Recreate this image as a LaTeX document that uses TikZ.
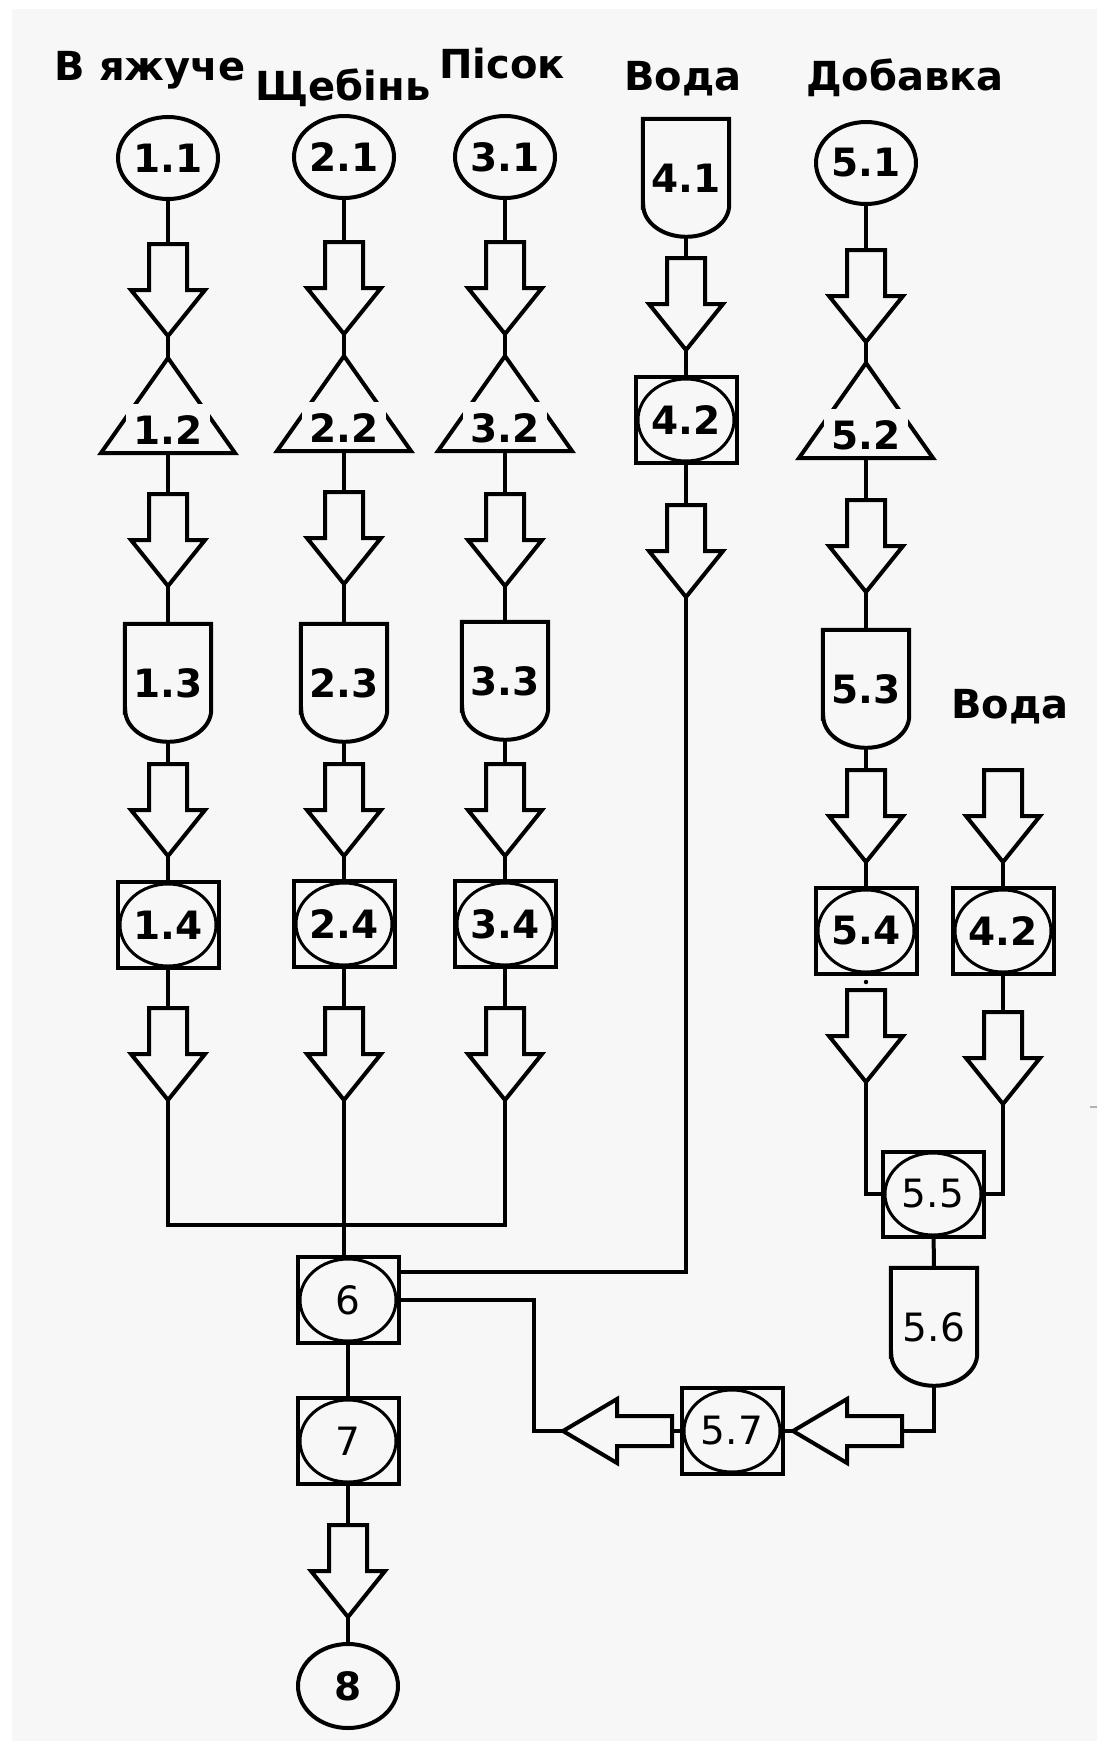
\documentclass[tikz,border=0pt]{standalone}
\usepackage{fontspec}
\setmainfont{DejaVu Sans}
\usetikzlibrary{shapes.geometric,calc}
\definecolor{bg}{HTML}{F7F7F7}
\newcommand{\blkdown}[3]{%
  \draw[ln, line join=miter, fill=bg] ({#2-19},{#3}) -- ({#2+19},{#3}) -- ({#2+19},{#3+46}) -- ({#2+37},{#3+46}) -- ({#2},{#3+92}) -- ({#2-37},{#3+46}) -- ({#2-19},{#3+46}) -- cycle;
  \coordinate (#1) at ({#2},{#3});
  \coordinate (#1t) at ({#2},{#3+92});}
\newcommand{\blkleft}[3]{%
  \draw[ln, line join=miter, fill=bg] ({#2},{#3-15}) -- ({#2},{#3+15}) -- ({#2-55},{#3+15}) -- ({#2-55},{#3+32}) -- ({#2-109},{#3}) -- ({#2-55},{#3-32}) -- ({#2-55},{#3-15}) -- cycle;
  \coordinate (#1) at ({#2},{#3});
  \coordinate (#1t) at ({#2-109},{#3});}
\newcommand{\trinode}[4]{%
  \draw[ln, line join=miter] ({#2},{#3}) -- ({#2+67},{#3+95}) -- ({#2-67},{#3+95}) -- cycle;
  \fill[bg] ({#2-42},{#3+46}) rectangle ({#2+42},{#3+88});
  \node[lbl] (#1) at ({#2},{#3+72}) {#4};
  \coordinate (#1a) at ({#2},{#3});
  \coordinate (#1b) at ({#2},{#3+95});}
\newcommand{\storenode}[5]{%
  \node[stbox, #5] (#1) at ({#2},{#3+59}) {#4};
  \draw[ln] (#1.south west) ++(0,-32) -- (#1.north west) -- (#1.north east) -- ++(0,86) arc[start angle=0, end angle=-180, x radius=43pt, y radius=32pt] -- cycle;}
\begin{document}
\begin{tikzpicture}[x=1pt,y=-1pt,
  ln/.style={line width=4pt},
  num/.style={font=\fontsize{39pt}{42pt}\selectfont\bfseries},
  numr/.style={font=\fontsize{39pt}{42pt}\selectfont},
  src/.style={ellipse, draw, line width=4pt, minimum width=100pt, minimum height=82pt, inner sep=0pt, num},
  ctl/.style={rectangle, draw, line width=4pt, minimum width=101pt, minimum height=86pt, inner sep=0pt, num,
    path picture={\draw[line width=3pt] (path picture bounding box.center) ellipse [x radius=48pt, y radius=41pt];}},
  stbox/.style={rectangle, minimum width=86pt, minimum height=118pt, inner sep=0pt},
  lbl/.style={inner sep=0pt, num},
  ttl/.style={anchor=base, inner sep=0pt, font=\fontsize{40pt}{44pt}\selectfont\bfseries}]
\useasboundingbox (0,0) rectangle (1097,1741);
\fill[white] (0,0) rectangle (1097,1741);
\fill[bg] (12,9) rectangle (1097,1741);

% titles
\node[ttl] (t1) at (150,80) {В яжуче};
\node[ttl] (t2) at (343,100) {Щебінь};
\node[ttl] (t3) at (502,78) {Пісок};
\node[ttl] (t4) at (683,90) {Вода};
\node[ttl] (t5) at (905,90) {Добавка};
\node[ttl] (t6) at (1010,718) {Вода};

% column 1
\node[src] (n11) at (168,158) {1.1};
\blkdown{a11}{168}{244}
\trinode{n12}{168}{358}{1.2}
\blkdown{a12}{168}{494}
\storenode{n13}{168}{624}{1.3}{num}
\blkdown{a13}{168}{764}
\node[ctl] (n14) at (168,925) {1.4};
\blkdown{a14}{168}{1008}
\draw[ln] (n11) -- (a11);
\draw[ln] (a11t) -- (n12a);
\draw[ln] (n12b) -- (a12);
\draw[ln] (a12t) -- (n13.north);
\draw[ln] (n13.south) -- (a13);
\draw[ln] (a13t) -- (n14);
\draw[ln] (n14) -- (a14);

% column 2
\node[src] (n21) at (344,157) {2.1};
\blkdown{a21}{344}{242}
\trinode{n22}{344}{356}{2.2}
\blkdown{a22}{344}{492}
\storenode{n23}{344}{624}{2.3}{num}
\blkdown{a23}{344}{764}
\node[ctl] (n24) at (344,924) {2.4};
\blkdown{a24}{344}{1008}
\draw[ln] (n21) -- (a21);
\draw[ln] (a21t) -- (n22a);
\draw[ln] (n22b) -- (a22);
\draw[ln] (a22t) -- (n23.north);
\draw[ln] (n23.south) -- (a23);
\draw[ln] (a23t) -- (n24);
\draw[ln] (n24) -- (a24);

% column 3
\node[src] (n31) at (505,157) {3.1};
\blkdown{a31}{505}{242}
\trinode{n32}{505}{356}{3.2}
\blkdown{a32}{505}{494}
\storenode{n33}{505}{622}{3.3}{num}
\blkdown{a33}{505}{764}
\node[ctl] (n34) at (505,924) {3.4};
\blkdown{a34}{505}{1008}
\draw[ln] (n31) -- (a31);
\draw[ln] (a31t) -- (n32a);
\draw[ln] (n32b) -- (a32);
\draw[ln] (a32t) -- (n33.north);
\draw[ln] (n33.south) -- (a33);
\draw[ln] (a33t) -- (n34);
\draw[ln] (n34) -- (a34);

% bottom chain
\node[ctl, numr] (n6) at (348,1300) {6};
\node[ctl, numr] (n7) at (348,1441) {7};
\blkdown{a7}{348}{1525}
\node[src, minimum height=84pt] (n8) at (348,1686) {8};
\draw[ln] (n6) -- (n7);
\draw[ln] (n7) -- (a7);
\draw[ln] (a7t) -- (n8);

\coordinate (bus) at (344,1225);
\draw[ln] (a14t) |- (bus) -| (a34t);
\draw[ln] (a24t) -- (a24t |- n6.north);

% column 4
\storenode{n41}{686}{119}{4.1}{num}
\blkdown{a41}{686}{258}
\node[ctl] (n42) at (686,420) {4.2};
\blkdown{a42}{686}{505}
\draw[ln] (n41.south) -- (a41);
\draw[ln] (a41t) -- (n42);
\draw[ln] (n42) -- (a42);
\draw[ln] (a42t) |- ($(n6.east)+(0,-28)$);

% column 5
\node[src] (n51) at (866,163) {5.1};
\blkdown{a51}{866}{250}
\trinode{n52}{866}{363}{5.2}
\blkdown{a52}{866}{500}
\storenode{n53}{866}{630}{5.3}{num}
\blkdown{a53}{866}{770}
\node[ctl] (n54) at (866,931) {5.4};
\blkdown{a54}{866}{990}
\fill (866,982) circle[radius=2.2pt];
\draw[ln] (n51) -- (a51);
\draw[ln] (a51t) -- (n52a);
\draw[ln] (n52b) -- (a52);
\draw[ln] (a52t) -- (n53.north);
\draw[ln] (n53.south) -- (a53);
\draw[ln] (a53t) -- (n54);

% column 6
\blkdown{a61}{1003}{770}
\node[ctl] (n62) at (1003,931) {4.2};
\blkdown{a62}{1003}{1012}
\draw[ln] (a61t) -- (n62);
\draw[ln] (n62) -- (a62);

% mixing branch
\node[ctl, numr, minimum height=85pt] (n55) at (933,1194) {5.5};
\draw[ln] (a54t) |- (n55.west);
\draw[ln] (a62t) |- (n55.east);
\storenode{n56}{934}{1268}{5.6}{numr}
\draw[ln] (n55) -- (n56.north);
\blkleft{a57i}{902}{1431}
\draw[ln] (n56.south) |- (a57i);
\node[ctl, numr] (n57) at (732,1431) {5.7};
\draw[ln] (a57it) -- (n57.east);
\blkleft{a57o}{672}{1431}
\draw[ln] (n57.west) -- (a57o);
\coordinate (j6) at (534,1431);
\draw[ln] (a57ot) -- (j6) |- (n6.east);

% stray mark at right edge
\draw[gray!60, line width=2pt] (1090,1107) -- (1097,1107);
\end{tikzpicture}
\end{document}
